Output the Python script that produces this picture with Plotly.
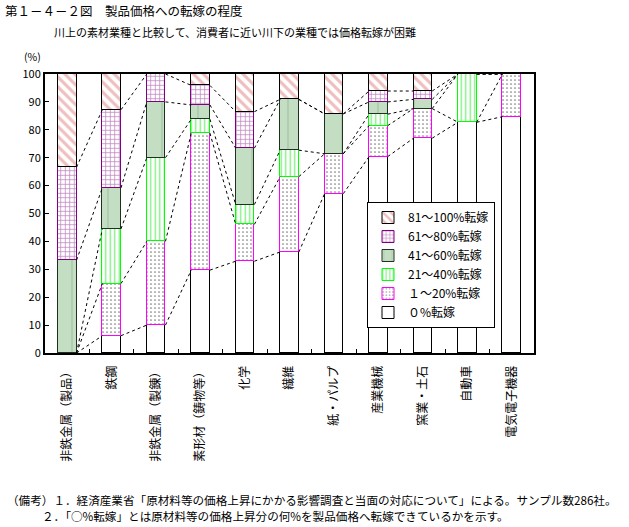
import plotly.graph_objects as go

categories = ["非鉄金属（製品）", "鉄鋼", "非鉄金属（製錬）", "素形材（鋳物等）", "化学", "繊維",
              "紙・パルプ", "産業機械", "窯業・土石", "自動車", "電気電子機器"]

series_names = ["０%転嫁", "１～20%転嫁", "21～40%転嫁", "41～60%転嫁", "61～80%転嫁", "81～100%転嫁"]

pct_0 = [0, 6.2, 10, 29.7, 32.9, 36.2, 57.1, 70.4, 77.0, 82.7, 84.7]
pct_1_20 = [0, 18.7, 30, 49.1, 13.2, 27.0, 14.3, 11.1, 10.6, 0, 15.3]
pct_21_40 = [0, 19.6, 30, 5.0, 7.1, 9.5, 0, 4.1, 0, 17.3, 0]
pct_41_60 = [33.3, 14.7, 20, 5.1, 20.2, 18.2, 14.3, 4.4, 3.3, 0, 0]
pct_61_80 = [33.3, 28.0, 10, 7.0, 13.1, 0, 0, 3.9, 3.0, 0, 0]
pct_81_100 = [33.4, 12.8, 0, 4.1, 13.5, 9.1, 14.3, 6.1, 6.1, 0, 0]

y_ticks = list(range(0, 101, 10))

all_series = [pct_0, pct_1_20, pct_21_40, pct_41_60, pct_61_80, pct_81_100]

styles = [
    dict(color="white", line="black", pattern=None),
    dict(color="white", line="#FF00FF", pattern=dict(shape=".", fgcolor="black", bgcolor="white", size=4, solidity=0.15)),
    dict(color="white", line="#00FF00", pattern=dict(shape="|", fgcolor="#00E000", bgcolor="white", size=4.5, solidity=0.3)),
    dict(color="#BFDBBF", line="#203020", pattern=dict(shape="|", fgcolor="#9CBC9C", bgcolor="#C4DEC4", size=18, solidity=0.12)),
    dict(color="white", line="#800080", pattern=dict(shape="+", fgcolor="#800080", bgcolor="white", size=4.5, solidity=0.3)),
    dict(color="white", line="black", pattern=dict(shape="\\", fgcolor="#E08080", bgcolor="white", size=7, solidity=0.45)),
]

xs = list(range(len(categories)))
bw = 0.42

fig = go.Figure()
for name, vals, st in zip(series_names, all_series, styles):
    marker = dict(color=st["color"], line=dict(color=st["line"], width=1))
    if st["pattern"]:
        marker["pattern"] = st["pattern"]
    fig.add_trace(go.Bar(
        x=xs, y=[v if v else None for v in vals], name=name, width=bw,
        marker=marker,
    ))

# series lines (dashed connectors between cumulative boundaries)
lx, ly = [], []
cum = [0.0] * len(categories)
for vals in all_series[:-1]:
    cum = [c + v for c, v in zip(cum, vals)]
    for i in range(len(categories) - 1):
        lx += [xs[i] + bw / 2, xs[i + 1] - bw / 2, None]
        ly += [cum[i], cum[i + 1], None]
fig.add_trace(go.Scatter(x=lx, y=ly, mode="lines", showlegend=False, hoverinfo="skip",
                         line=dict(color="black", width=1, dash="3px,3px")))

L, T, PW, PH = 45, 74, 489, 279


def px(x):
    return (x - L) / PW


def py(y):
    return (T + PH - y) / PH


font = "Noto Sans CJK JP, sans-serif"
annotations = [
    dict(text="第１－４－２図　製品価格への転嫁の程度", x=px(3), y=py(11), font=dict(size=12.5)),
    dict(text="川上の素材業種と比較して、消費者に近い川下の業種では価格転嫁が困難", x=px(52), y=py(31.5), font=dict(size=11)),
    dict(text="(%)", x=px(22), y=py(56), font=dict(size=10.5)),
    dict(text="（備考）１．経済産業省「原材料等の価格上昇にかかる影響調査と当面の対応について」による。サンプル数286社。",
         x=px(5), y=py(500), font=dict(size=11.6)),
    dict(text="２．「○%転嫁」とは原材料等の価格上昇分の何%を製品価格へ転嫁できているかを示す。",
         x=px(40), y=py(516), font=dict(size=11.6)),
]
for a in annotations:
    a.update(xref="paper", yref="paper", xanchor="left", yanchor="middle", showarrow=False)
    a["font"].update(family=font, color="black")

fig.update_layout(
    barmode="stack",
    width=629, height=527,
    margin=dict(l=L, r=629 - L - PW, t=T, b=527 - T - PH, pad=0, autoexpand=False),
    paper_bgcolor="white", plot_bgcolor="white",
    font=dict(family=font, size=12, color="black"),
    showlegend=True,
    legend=dict(traceorder="reversed", x=px(431), y=py(202), xanchor="center", yanchor="top",
                bgcolor="white", bordercolor="black", borderwidth=1,
                font=dict(size=12), itemwidth=30, tracegroupgap=0),
    annotations=annotations,
    bargap=0,
)
fig.update_xaxes(
    range=[-0.5, len(categories) - 0.5], tickmode="array", tickvals=xs, ticktext=categories,
    tickangle=-90, ticks="", showgrid=False, zeroline=False, automargin=False,
    showline=True, linecolor="black", linewidth=2, mirror=True,
    tickfont=dict(size=12), ticklabelstandoff=6,
    minor=dict(tickmode="array", tickvals=[i + 0.5 for i in xs[:-1]], ticks="inside", ticklen=4,
               tickcolor="black", showgrid=False),
)
fig.update_yaxes(
    range=[0, 100], tickmode="array", tickvals=y_ticks, ticks="inside", ticklen=4, tickcolor="black",
    showgrid=False, zeroline=False, showline=True, linecolor="black", linewidth=2, mirror=True,
    tickfont=dict(size=11), automargin=False,
)

fig.write_html("out.html", config={"displayModeBar": False},
               post_script="document.body.style.margin='0';document.body.style.overflow='hidden';")
